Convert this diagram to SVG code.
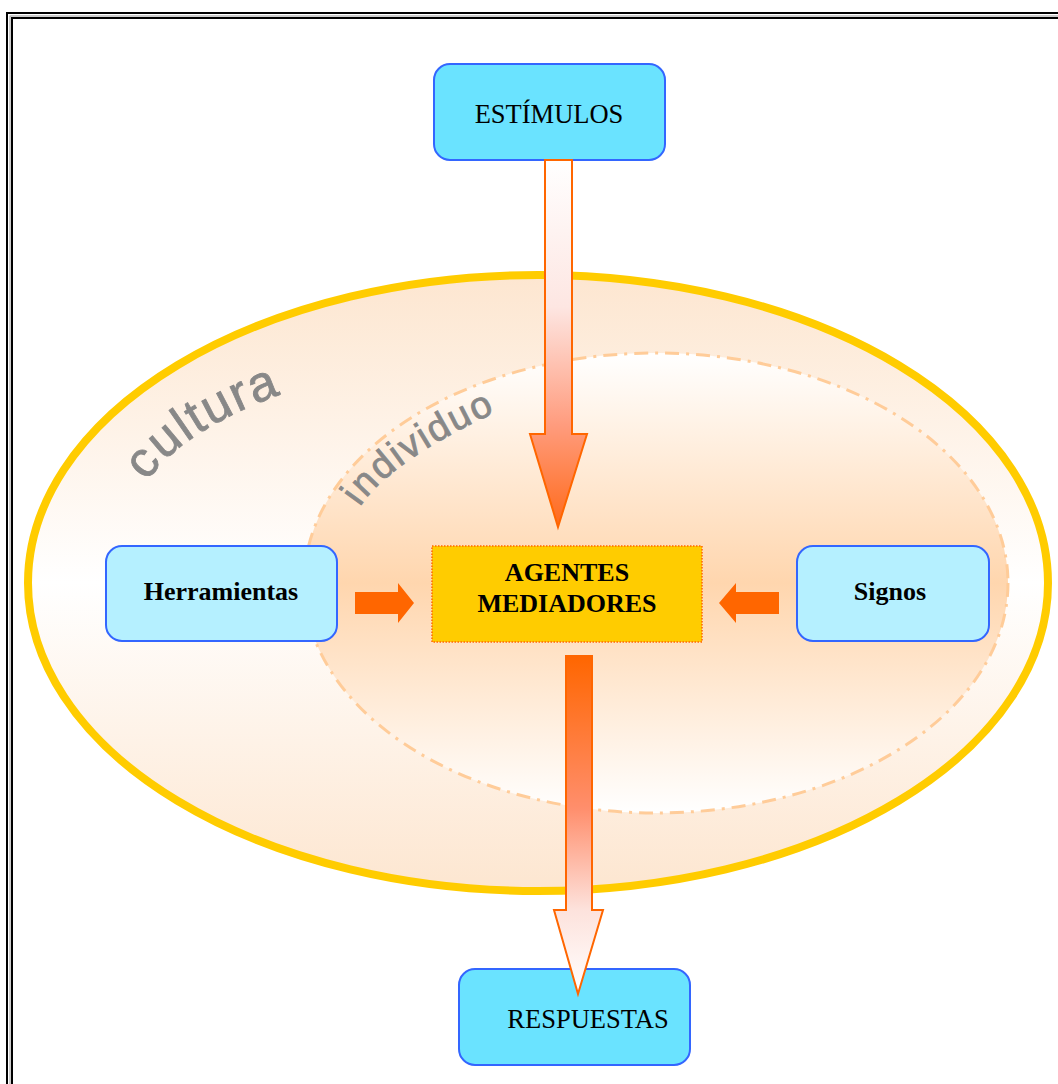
<svg xmlns="http://www.w3.org/2000/svg" xmlns:xlink="http://www.w3.org/1999/xlink" width="1058" height="1084" viewBox="0 0 1058 1084">
<style>
.box{stroke:#3366FF;stroke-width:2}
.lbl{font-family:"Liberation Serif","Times New Roman",serif;fill:#000;text-anchor:middle}
.b{font-weight:bold}
.arc{font-family:"Liberation Sans",Arial,sans-serif;fill:#888888;stroke:#888888;stroke-width:0.8}
</style>
<defs>
<linearGradient id="gOuter" x1="0" y1="0" x2="0" y2="1">
<stop offset="0" stop-color="#FDE6D0"/>
<stop offset="0.5" stop-color="#FFFFFF"/>
<stop offset="1" stop-color="#FDE6D0"/>
</linearGradient>
<linearGradient id="gInner" x1="0" y1="0" x2="0" y2="1">
<stop offset="0" stop-color="#FFFFFF"/>
<stop offset="0.5" stop-color="#FFD6AE"/>
<stop offset="1" stop-color="#FFFFFF"/>
</linearGradient>
<linearGradient id="gDown" gradientUnits="userSpaceOnUse" x1="0" y1="160" x2="0" y2="527">
<stop offset="0" stop-color="#FFFFFF"/>
<stop offset="0.4" stop-color="#FDE6E2"/>
<stop offset="0.72" stop-color="#FF9C7E"/>
<stop offset="1" stop-color="#FF6A1A"/>
</linearGradient>
<linearGradient id="gResp" gradientUnits="userSpaceOnUse" x1="0" y1="656" x2="0" y2="994">
<stop offset="0" stop-color="#FF6600"/>
<stop offset="0.45" stop-color="#FF8E6C"/>
<stop offset="0.75" stop-color="#FDE2DC"/>
<stop offset="1" stop-color="#FFFFFF"/>
</linearGradient>
<path id="pCultura" d="M 147,482 C 175,440 232,412 287,392 L 330,377"/>
<path id="pIndiv" d="M 360,507 C 385,468 450,433 497,412 L 530,398"/>
</defs>
<rect width="1058" height="1084" fill="#FFFFFF"/>
<g id="frame" fill="none">
<rect x="7" y="13" width="1070" height="1100" stroke="#000" stroke-width="2"/>
<rect x="10" y="16" width="1064" height="1094" stroke="#999" stroke-width="1"/>
<rect x="12" y="18" width="1060" height="1090" stroke="#000" stroke-width="2"/>
</g>
<g id="cultura">
<ellipse cx="538" cy="583" rx="510" ry="308" fill="url(#gOuter)" stroke="#FFCC00" stroke-width="8"/>
<text class="arc" font-size="50" letter-spacing="2"><textPath xlink:href="#pCultura" href="#pCultura">cultura</textPath></text>
</g>
<g id="individuo">
<ellipse cx="656" cy="583" rx="352" ry="230" fill="url(#gInner)" stroke="#FFCC99" stroke-width="3" stroke-dasharray="14 7 3 7"/>
<text class="arc" font-size="38" letter-spacing="2"><textPath xlink:href="#pIndiv" href="#pIndiv">individuo</textPath></text>
</g>
<g id="estimulos">
<rect class="box" x="434" y="64" width="231" height="96" rx="16" fill="#6AE3FF"/>
<text class="lbl" x="549" y="123" font-size="26.5">ESTÍMULOS</text>
</g>
<g id="herramientas">
<rect class="box" x="106" y="546" width="231" height="95" rx="16" fill="#B5F0FF"/>
<text class="lbl b" x="221" y="600" font-size="26">Herramientas</text>
</g>
<g id="signos">
<rect class="box" x="797" y="546" width="192" height="95" rx="16" fill="#B5F0FF"/>
<text class="lbl b" x="890" y="600" font-size="26">Signos</text>
</g>
<g id="agentes">
<rect x="432" y="546" width="270" height="96" fill="#FFCC00" stroke="#FF6600" stroke-width="1.5" stroke-dasharray="1.5 1.5"/>
<text class="lbl b" x="567" y="581" font-size="26">AGENTES</text>
<text class="lbl b" x="567" y="612" font-size="26">MEDIADORES</text>
</g>
<g id="respuestas">
<rect class="box" x="459" y="969" width="231" height="96" rx="16" fill="#6AE3FF"/>
<text class="lbl" x="588" y="1028" font-size="26.5">RESPUESTAS</text>
</g>
<g id="connectors">
<polygon points="545,160 572,160 572,434 587,434 558,527 530,434 545,434" fill="url(#gDown)" stroke="#FF6600" stroke-width="2" stroke-linejoin="miter"/>
<polygon points="566,656 592,656 592,910 603,910 578,994 554,910 566,910" fill="url(#gResp)" stroke="#FF6600" stroke-width="2" stroke-linejoin="miter"/>
<polygon points="355,592 398,592 398,583 414,603 398,623 398,614 355,614" fill="#FF6600"/>
<polygon points="779,592 736,592 736,583 719,603 736,623 736,614 779,614" fill="#FF6600"/>
</g>
</svg>
